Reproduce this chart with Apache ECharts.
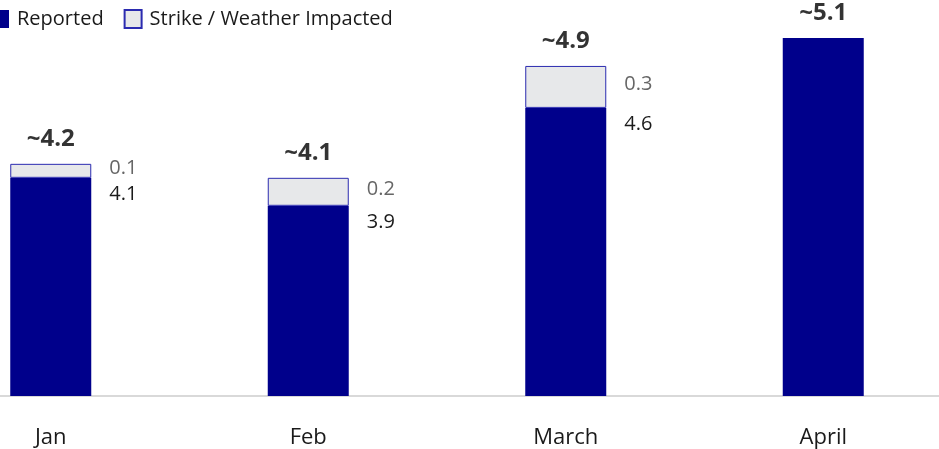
<!DOCTYPE html>
<html>
<head>
<meta charset="utf-8">
<script src="https://cdn.jsdelivr.net/npm/echarts@6/dist/echarts.min.js"></script>
<style>
  html, body { margin: 0; padding: 0; background: #ffffff; }
  #chart { width: 939px; height: 449px; }
</style>
</head>
<body>
<div id="chart"></div>
<script>
// Monthly volumes: reported vs. strike / weather impacted
const categories = ['Jan', 'Feb', 'March', 'April'];
const reported = [4.1, 3.9, 4.6, 5.1];
const impacted = [0.1, 0.2, 0.3, null];
const totals = reported.map((v, i) => Math.round((v + (impacted[i] || 0)) * 10) / 10);

const NAVY = '#00008b';
const GREY = '#e7e8ea';
const FONT = '"Open Sans", "Noto Sans", sans-serif';

// April has no impacted share, so its reported value carries no side label
const reportedData = reported.map((v, i) => ({
  value: v,
  label: { show: impacted[i] != null }
}));

const chart = echarts.init(document.getElementById('chart'));
chart.setOption({
  animation: false,
  textStyle: { fontFamily: FONT },
  legend: {
    left: -13,
    top: 4,
    itemWidth: 17,
    itemHeight: 18,
    itemGap: 20,
    icon: 'rect',
    textStyle: { fontSize: 20, color: '#1a1a1a', fontFamily: FONT, padding: [0, 0, 0, 3] },
    data: ['Reported', 'Strike / Weather Impacted']
  },
  grid: { left: -78, right: -13, top: 10, bottom: 53, outerBoundsMode: 'none', containLabel: false },
  xAxis: {
    type: 'category',
    data: categories,
    axisTick: { show: false },
    axisLine: { lineStyle: { color: '#d9d9d9', width: 2 } },
    axisLabel: { margin: 31, fontSize: 22, color: '#1a1a1a', fontFamily: FONT }
  },
  yAxis: {
    type: 'value',
    min: 2.54,
    max: 5.3,
    show: false,
    splitLine: { show: false }
  },
  series: [
    {
      name: 'Reported',
      type: 'bar',
      stack: 'total',
      barWidth: 81,
      data: reportedData,
      itemStyle: { color: NAVY },
      label: {
        position: ['100%', 16],
        offset: [18, 0],
        align: 'left',
        verticalAlign: 'middle',
        fontSize: 20,
        color: '#1a1a1a',
        fontFamily: FONT
      }
    },
    {
      name: 'Strike / Weather Impacted',
      type: 'bar',
      stack: 'total',
      barWidth: 81,
      data: impacted,
      itemStyle: { color: GREY, borderColor: '#2b2bb0', borderWidth: 1 },
      label: {
        show: true,
        position: 'right',
        distance: 18,
        fontSize: 20,
        color: '#666666',
        fontFamily: FONT,
        offset: [0, -3]
      }
    },
    {
      name: 'Total',
      type: 'scatter',
      symbolSize: 0,
      data: totals,
      silent: true,
      label: {
        show: true,
        position: 'top',
        distance: 13,
        fontSize: 24,
        fontWeight: 'bold',
        color: '#000',
        fontFamily: FONT,
        formatter: p => '~' + p.value.toFixed(1)
      }
    }
  ]
});
</script>
</body>
</html>
